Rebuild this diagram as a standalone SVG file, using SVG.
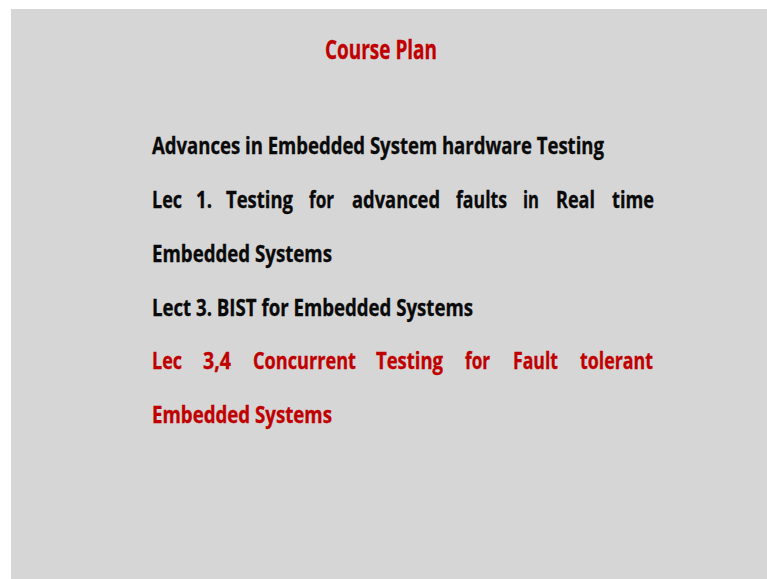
<svg xmlns="http://www.w3.org/2000/svg" width="767" height="579" viewBox="0 0 767 579">
  <style>
    .t { font-family: "Open Sans", "Liberation Sans", sans-serif; font-weight: 700; font-size: 22.5px; stroke-width: 0.35px; }
    .blk { fill: #0a0a0a; stroke: #0a0a0a; }
    .red { fill: #c00000; stroke: #c00000; }
    .title { font-size: 27.5px; }
  </style>
  <!-- page -->
  <rect x="0" y="0" width="767" height="579" fill="#ffffff"/>
  <rect x="11" y="9" width="756" height="570" fill="#d6d6d6"/>

  <g id="title">
    <text class="t red title" x="325" y="59" textLength="112" lengthAdjust="spacingAndGlyphs">Course Plan</text>
  </g>

  <g id="body">
    <text class="t blk" x="152" y="154" textLength="452" lengthAdjust="spacingAndGlyphs">Advances in Embedded System hardware Testing</text>

    <!-- justified line: one text per word -->
    <g id="lec1">
      <text class="t blk" x="152" y="208" textLength="30" lengthAdjust="spacingAndGlyphs">Lec</text>
      <text class="t blk" x="196" y="208" textLength="16" lengthAdjust="spacingAndGlyphs">1.</text>
      <text class="t blk" x="226" y="208" textLength="67" lengthAdjust="spacingAndGlyphs">Testing</text>
      <text class="t blk" x="309" y="208" textLength="25" lengthAdjust="spacingAndGlyphs">for</text>
      <text class="t blk" x="352" y="208" textLength="88" lengthAdjust="spacingAndGlyphs">advanced</text>
      <text class="t blk" x="456" y="208" textLength="51" lengthAdjust="spacingAndGlyphs">faults</text>
      <text class="t blk" x="523" y="208" textLength="16" lengthAdjust="spacingAndGlyphs">in</text>
      <text class="t blk" x="556" y="208" textLength="39" lengthAdjust="spacingAndGlyphs">Real</text>
      <text class="t blk" x="612" y="208" textLength="42" lengthAdjust="spacingAndGlyphs">time</text>
    </g>
    <text class="t blk" x="152" y="262" textLength="180" lengthAdjust="spacingAndGlyphs">Embedded Systems</text>

    <text class="t blk" x="152" y="316" textLength="321" lengthAdjust="spacingAndGlyphs">Lect 3. BIST for Embedded Systems</text>

    <g id="lec34">
      <text class="t red" x="152" y="369" textLength="30" lengthAdjust="spacingAndGlyphs">Lec</text>
      <text class="t red" x="203" y="369" textLength="28" lengthAdjust="spacingAndGlyphs">3,4</text>
      <text class="t red" x="253" y="369" textLength="103" lengthAdjust="spacingAndGlyphs">Concurrent</text>
      <text class="t red" x="376" y="369" textLength="67" lengthAdjust="spacingAndGlyphs">Testing</text>
      <text class="t red" x="465" y="369" textLength="25" lengthAdjust="spacingAndGlyphs">for</text>
      <text class="t red" x="513" y="369" textLength="45" lengthAdjust="spacingAndGlyphs">Fault</text>
      <text class="t red" x="580" y="369" textLength="73" lengthAdjust="spacingAndGlyphs">tolerant</text>
    </g>
    <text class="t red" x="152" y="423" textLength="180" lengthAdjust="spacingAndGlyphs">Embedded Systems</text>
  </g>
</svg>
